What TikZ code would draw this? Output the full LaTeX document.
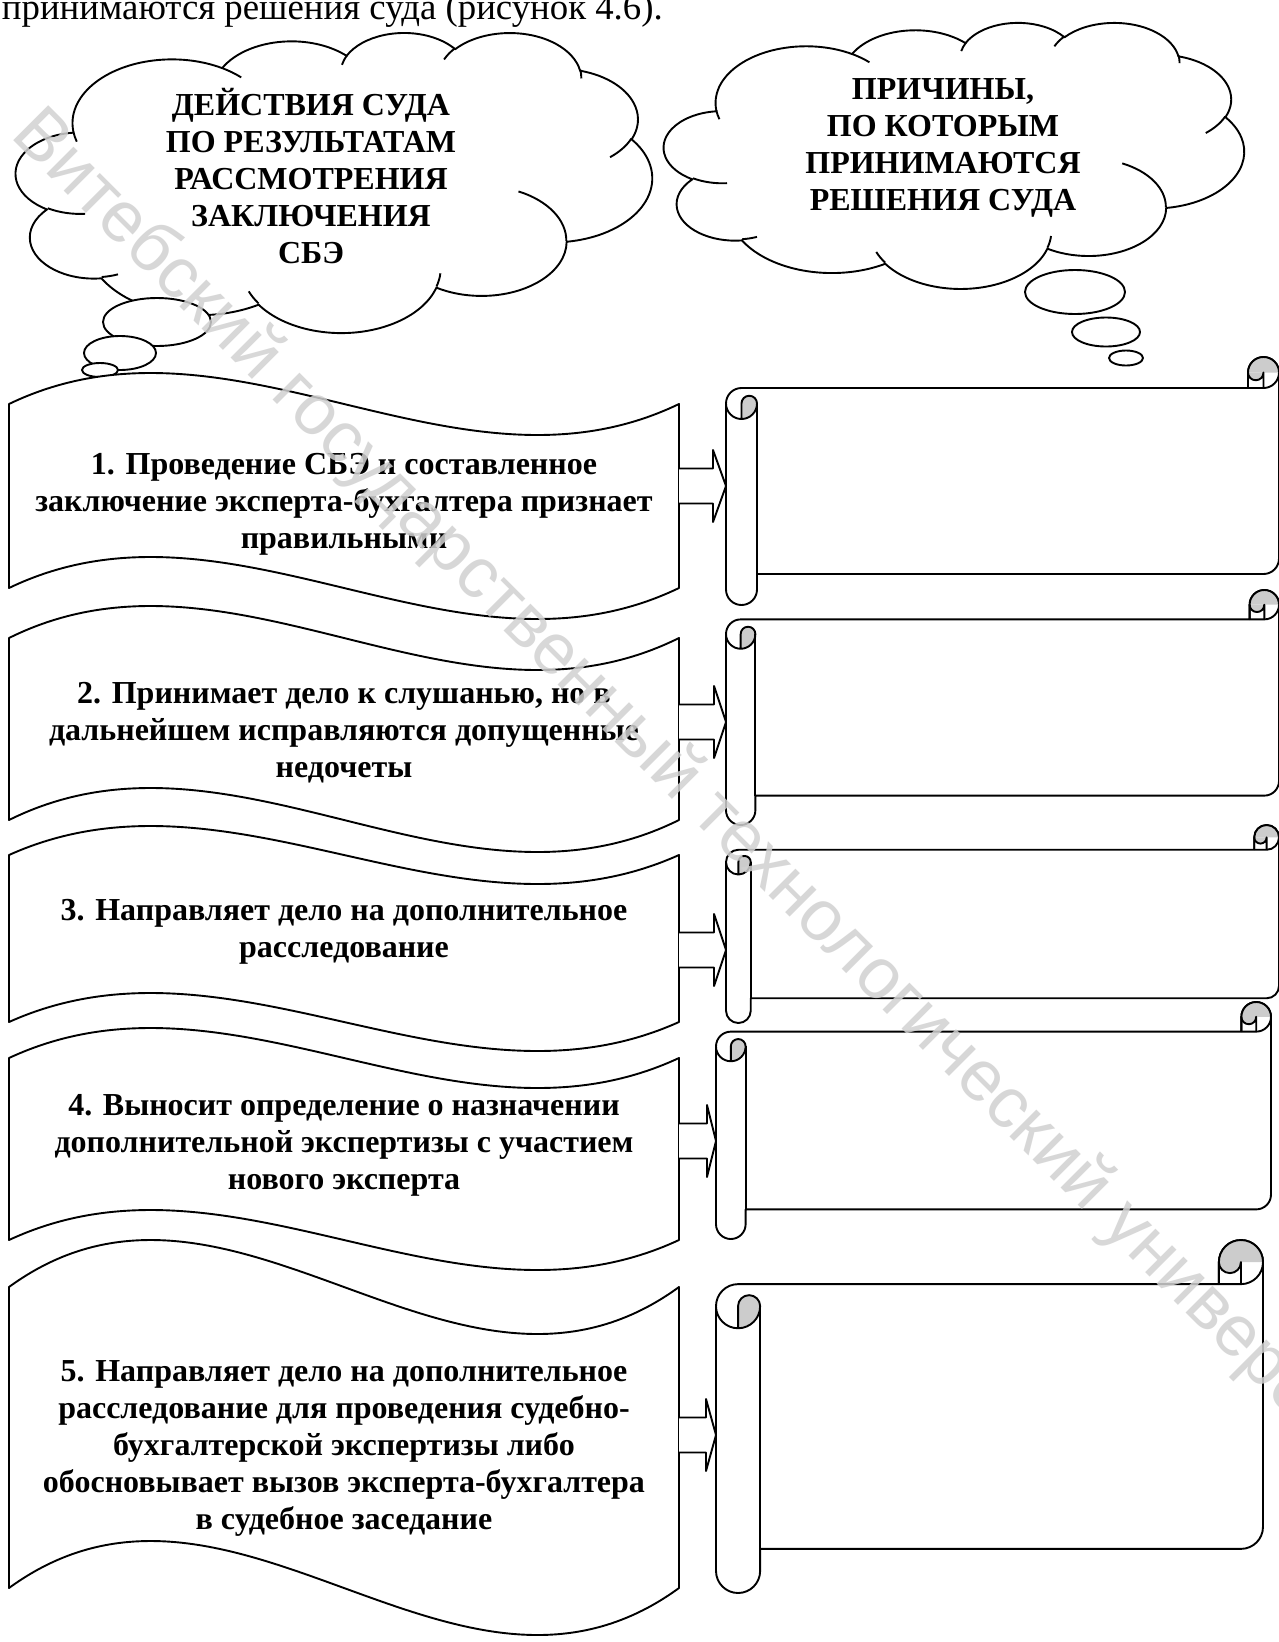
\documentclass[tikz,border=0pt]{standalone}
\usepackage{fontspec}
\setmainfont{Liberation Serif}
\newfontfamily\wmfont{Liberation Sans}
\definecolor{rollgray}{gray}{0.8}

% Word-style thought cloud in a 432 x 432 grid: left, top, width, height
\newcommand{\thoughtcloud}[4]{%
  \begin{scope}[shift = {(#1,#2)}, x = #3pt/432, y = -#4pt/432]
    \draw[fill = white] (39.00,143.70)
      \foreach \aw/\ah/\as/\ad [evaluate = {\as as \ps using atan2(\aw*sin(\as),\ah*cos(\as))},
        evaluate = {\ad as \pe using atan2(\aw*sin(\as),\ah*cos(\as)) + \ad + Mod(atan2(\aw*sin(\as+\ad),\ah*cos(\as+\ad)) - atan2(\aw*sin(\as),\ah*cos(\as)) - \ad + 180, 360) - 180}]
      in {67.53/91.90/-190.4875/123.7805, 53.33/72.67/-144.1024/89.9452,
          43.65/59.45/-145.8079/99.7230, 48.57/65.95/-130.9861/117.2417,
          53.33/72.73/-78.7089/109.0269, 67.75/92.20/-46.2673/130.2690,
          57.85/78.67/0.6250/114.0333, 67.52/92.15/22.4516/115.1726,
          77.20/105.43/66.2426/75.7110, 43.60/59.18/-274.9421/146.7356,
          43.45/59.45/-246.8285/152.5189}
      { arc[x radius = \aw, y radius = \ah, start angle = \ps, end angle = \pe] } -- cycle;
    % inner seams
    \draw
      \foreach \px/\py/\aw/\ah/\as/\ad [evaluate = {\as as \ps using atan2(\aw*sin(\as),\ah*cos(\as))},
        evaluate = {\ad as \pe using atan2(\aw*sin(\as),\ah*cos(\as)) + \ad + Mod(atan2(\aw*sin(\as+\ad),\ah*cos(\as+\ad)) - atan2(\aw*sin(\as),\ah*cos(\as)) - \ad + 180, 360) - 180}]
      in {46.93/261.77/43.45/59.45/86.7420/26.4295, 69.28/348.99/43.60/59.18/73.6105/11.4475,
          164.78/390.90/67.52/92.15/137.6242/14.0811, 288.27/347.51/67.52/92.15/6.4533/15.9984,
          341.29/229.54/57.85/78.67/-70.2924/70.9174, 417.98/153.54/53.33/72.73/30.3180/27.7515,
          383.24/54.26/48.57/65.95/-13.7443/14.8589, 290.78/39.52/48.57/65.95/-149.1815/18.1954,
          221.41/47.20/43.65/59.45/-163.4943/17.6864, 140.00/51.92/67.53/91.90/-66.7070/12.3194,
          41.27/157.89/67.53/91.90/157.6544/11.8582}
      { (\px,\py) arc[x radius = \aw, y radius = \ah, start angle = \ps, end angle = \pe] };
  \end{scope}}

\begin{document}
\begin{tikzpicture}[x = 1pt, y = -1pt, line width = 1.9pt, line join = round,
    every node/.style = {font = {\fontsize{32}{37}\selectfont\bfseries}, align = center, inner sep = 0pt}]
    \useasboundingbox (0,0) rectangle (1279,1642);

    \node[anchor = base west, font = {\fontsize{36.8}{42}\selectfont}] (caption) at (1,19) {принимаются решения суда (рисунок 4.6).};

    % clouds and their bubbles
    \thoughtcloud{16}{32}{636}{300}
    \thoughtcloud{664}{22}{580}{266}
    \foreach \x/\y/\rx/\ry in {157/322/54/24, 120/353/36/17, 100/370/18/7,
                               1075/292/50/22, 1106/332/34/14.5, 1126/358/17/7.5}
        \draw[fill = white] (\x,\y) ellipse[x radius = \rx, y radius = \ry];

    \node (acthead) at (311,176) {ДЕЙСТВИЯ СУДА\\ПО РЕЗУЛЬТАТАМ\\РАССМОТРЕНИЯ\\ЗАКЛЮЧЕНИЯ\\СБЭ};
    \node (whyhead) at (943,148) {ПРИЧИНЫ,\\ПО КОТОРЫМ\\ПРИНИМАЮТСЯ\\РЕШЕНИЯ СУДА};

    % wave boxes
    \foreach \yt/\yb/\amp in {404/588/31, 638/820/32, 855/1022/29, 1058/1240/30, 1287/1588/47}
        \draw[fill = white] (9,\yt) .. controls (232.3,\yt-3.464*\amp) and (455.7,\yt+3.464*\amp) .. (679,\yt)
            -- (679,\yb) .. controls (455.7,\yb+3.464*\amp) and (232.3,\yb-3.464*\amp) .. (9,\yb) -- cycle;

    % block arrows
    \foreach \xb/\xt/\yc in {713/726/486, 714/726/722, 714/726/950, 707/716/1141, 706/716/1435}
        \draw[fill = white] (679,\yc-17.5) -- (\xb,\yc-17.5) -- (\xb,\yc-36) -- (\xt,\yc)
            -- (\xb,\yc+36) -- (\xb,\yc+17.5) -- (679,\yc+17.5);

    % scrolls
    \foreach \xl/\yt/\xr/\yb in {726/357/1279/605, 726/590/1279/825, 726/825/1279/1023,
                                 716/1002/1271/1239, 716/1240/1263/1593}
    {
        \pgfmathsetmacro{\rc}{(\yb-\yt)/8}
        \pgfmathsetmacro{\rh}{\rc/2}
        \pgfmathsetmacro{\rq}{\rc/4}
        \draw[fill = white] (\xl,\yt+1.5*\rc) arc[start angle = 180, end angle = 270, radius = \rh]
            -- (\xr-\rc,\yt+\rc) -- (\xr-\rc,\yt+\rh) arc[start angle = 180, end angle = 360, radius = \rh]
            -- (\xr,\yb-1.5*\rc) arc[start angle = 0, end angle = 90, radius = \rh]
            -- (\xl+\rc,\yb-\rc) -- (\xl+\rc,\yb-\rh) arc[start angle = 0, end angle = 180, radius = \rh] -- cycle;
        \fill[rollgray] (\xl+\rh,\yt+2*\rc) arc[start angle = 90, end angle = 0, radius = \rh]
            arc[start angle = 0, end angle = -180, radius = \rq] -- cycle;
        \fill[rollgray] (\xr-\rc,\yt+\rh) arc[start angle = 180, end angle = 360, radius = \rh] -- cycle;
        \fill[rollgray] (\xr-\rh,\yt+\rh) arc[start angle = 0, end angle = 180, radius = \rq] -- cycle;
        \draw (\xr-\rc,\yt+\rc) -- (\xr-\rc,\yt+\rh) arc[start angle = 180, end angle = 360, radius = \rh];
        \draw (\xr-\rc,\yt+\rc) -- (\xr-\rh,\yt+\rc) arc[start angle = 90, end angle = 0, radius = \rh];
        \draw (\xr-\rh,\yt+\rc) -- (\xr-\rh,\yt+\rh) arc[start angle = 0, end angle = 180, radius = \rq];
        \draw (\xl+\rh,\yt+2*\rc) -- (\xl+\rh,\yt+1.5*\rc) arc[start angle = 180, end angle = 360, radius = \rq]
            arc[start angle = 0, end angle = 180, radius = \rh];
        \draw (\xl+\rc,\yt+1.5*\rc) -- (\xl+\rc,\yb-\rc);
    }

    \node (act1) at (344,504) {1. Проведение СБЭ и составленное\\заключение эксперта-бухгалтера признает\\правильными};
    \node (act2) at (344,733) {2. Принимает дело к слушанью, но в\\дальнейшем исправляются допущенные\\недочеты};
    \node (act3) at (344,932) {3. Направляет дело на дополнительное\\расследование};
    \node (act4) at (344,1145) {4. Выносит определение о назначении\\дополнительной экспертизы с участием\\нового эксперта};
    \node (act5) at (344,1448) {5. Направляет дело на дополнительное\\расследование для проведения судебно-\\бухгалтерской экспертизы либо\\обосновывает вызов эксперта-бухгалтера\\в судебное заседание};

    \node[anchor = base west, rotate = -45, text = black!18, text opacity = 0.85,
          font = {\wmfont\fontsize{72}{72}\selectfont}] (wm) at (9,136) {Витебский государственный технологический университет};
\end{tikzpicture}
\end{document}
